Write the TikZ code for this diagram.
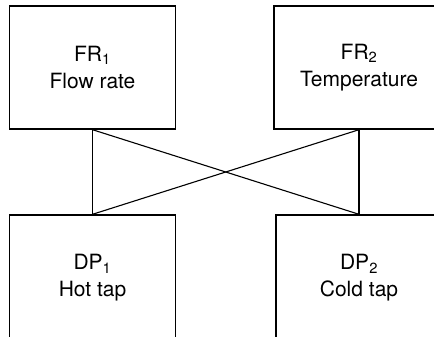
\documentclass[tikz,border=0pt]{standalone}
\usepackage{fontspec}
\setmainfont{TeX Gyre Heros}
\begin{document}
\begin{tikzpicture}[x=1pt, y=1pt,
  block/.style={rectangle, draw, line width=1.4pt, minimum width=166pt, minimum height=123pt, align=center, font=\fontsize{21}{27}\selectfont},
  link/.style={line width=1.1pt}]
\useasboundingbox (0,0) rectangle (434,-337);
\clip (0,0) rectangle (434,-337);

% functional requirements
\node[block] (fr1) at (92.5, -67.5) {FR\textsubscript{1}\\Flow rate};
\node[block, minimum width=170pt] (fr2) at (359, -67.5) {FR\textsubscript{2}\\Temperature};

% design parameters
\node[block, minimum height=126pt] (dp1) at (92.5, -278) {DP\textsubscript{1}\\Hot tap};
\node[block, minimum height=126pt] (dp2) at (359, -278) {DP\textsubscript{2}\\Cold tap};

\foreach \f in {1, 2} {
  \foreach \d in {1, 2}
    \draw[link] (fr\f.south) -- (dp\d.north);
}
\end{tikzpicture}
\end{document}
